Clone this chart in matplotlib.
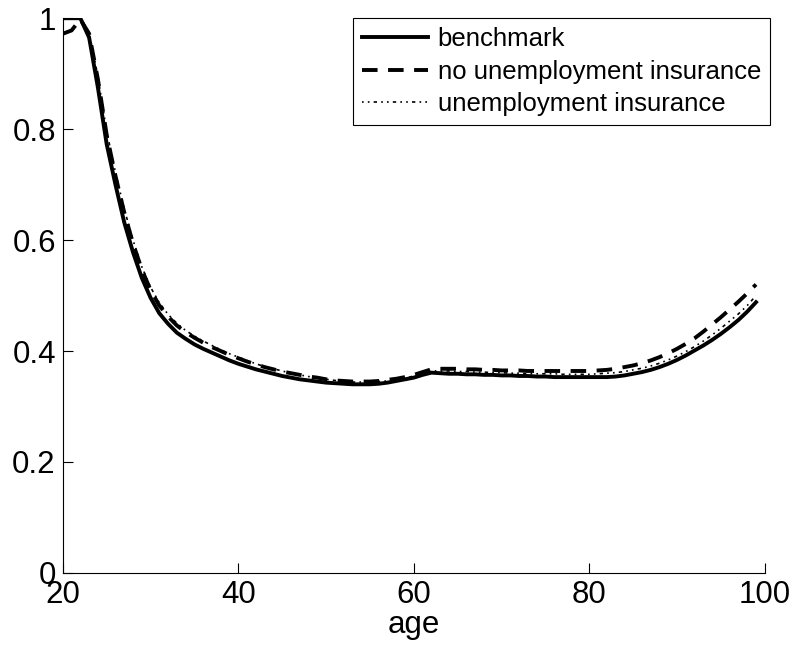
import numpy as np
import matplotlib.pyplot as plt

plt.rcParams['font.family'] = ['Liberation Sans', 'DejaVu Sans']

age = np.arange(20, 100)

benchmark = [
    1.000, 1.000, 1.000, 0.965, 0.875, 0.773, 0.700, 0.632, 0.578, 0.532,
    0.496, 0.468, 0.449, 0.433, 0.422, 0.412, 0.404, 0.397, 0.390, 0.383,
    0.377, 0.372, 0.367, 0.363, 0.359, 0.355, 0.352, 0.349, 0.347, 0.345,
    0.343, 0.342, 0.341, 0.340, 0.340, 0.340, 0.341, 0.343, 0.346, 0.349,
    0.352, 0.357, 0.361, 0.360, 0.359, 0.359, 0.358, 0.358, 0.357, 0.357,
    0.356, 0.356, 0.355, 0.355, 0.354, 0.354, 0.353, 0.353, 0.353, 0.353,
    0.353, 0.353, 0.353, 0.354, 0.356, 0.359, 0.362, 0.366, 0.371, 0.377,
    0.384, 0.392, 0.401, 0.410, 0.420, 0.431, 0.443, 0.456, 0.471, 0.488,
]

no_ui = [
    0.972, 0.978, 0.998, 0.972, 0.890, 0.790, 0.716, 0.650, 0.594, 0.547,
    0.510, 0.482, 0.462, 0.446, 0.434, 0.424, 0.415, 0.407, 0.400, 0.393,
    0.387, 0.381, 0.376, 0.371, 0.367, 0.363, 0.360, 0.357, 0.354, 0.352,
    0.349, 0.347, 0.346, 0.345, 0.345, 0.345, 0.346, 0.348, 0.350, 0.353,
    0.357, 0.362, 0.367, 0.368, 0.368, 0.368, 0.367, 0.367, 0.366, 0.366,
    0.365, 0.365, 0.365, 0.364, 0.364, 0.364, 0.364, 0.364, 0.364, 0.364,
    0.364, 0.365, 0.366, 0.368, 0.371, 0.374, 0.378, 0.383, 0.389, 0.396,
    0.404, 0.413, 0.423, 0.435, 0.448, 0.461, 0.475, 0.489, 0.504, 0.520,
]

ui = [
    1.000, 1.000, 1.000, 0.975, 0.895, 0.796, 0.722, 0.656, 0.600, 0.552,
    0.515, 0.487, 0.466, 0.450, 0.437, 0.427, 0.418, 0.410, 0.402, 0.395,
    0.389, 0.383, 0.377, 0.372, 0.368, 0.364, 0.360, 0.357, 0.354, 0.352,
    0.349, 0.347, 0.345, 0.344, 0.344, 0.344, 0.345, 0.346, 0.348, 0.351,
    0.355, 0.359, 0.364, 0.364, 0.364, 0.363, 0.363, 0.362, 0.362, 0.361,
    0.361, 0.360, 0.360, 0.359, 0.359, 0.359, 0.359, 0.358, 0.358, 0.358,
    0.358, 0.359, 0.360, 0.361, 0.363, 0.366, 0.369, 0.373, 0.378, 0.384,
    0.391, 0.399, 0.408, 0.418, 0.429, 0.441, 0.454, 0.467, 0.482, 0.500,
]

fig = plt.figure(figsize=(7.95, 6.51), dpi=100)
ax = fig.add_axes([0.079, 0.12, 0.883, 0.852])

ax.plot(age, benchmark, color='black', lw=2.8, label='benchmark')
ax.plot(age, no_ui, color='black', lw=2.8, dashes=(4, 2.7),
        label='no unemployment insurance')
ax.plot(age, ui, color='black', lw=1.2, dashes=(1, 2.5, 1, 2.5, 2, 2.5),
        label='unemployment insurance')

ax.set_xlim(20, 100)
ax.set_ylim(0, 1)
ax.set_xticks([20, 40, 60, 80, 100])
ax.set_yticks([0, 0.2, 0.4, 0.6, 0.8, 1])
ax.set_yticklabels(['0', '0.2', '0.4', '0.6', '0.8', '1'])
ax.tick_params(direction='in', length=7, width=0.8, labelsize=22.5, pad=5)
ax.set_xlabel('age', fontsize=22.5, labelpad=0)

for side in ['top', 'right']:
    ax.spines[side].set_visible(False)
for side in ['left', 'bottom']:
    ax.spines[side].set_linewidth(0.8)

leg = ax.legend(loc='upper right', bbox_to_anchor=(1.008, 1.0), fontsize=18.5,
                handlelength=2.55, handletextpad=0.4, labelspacing=0.32,
                borderaxespad=0, borderpad=0.36, fancybox=False,
                framealpha=1, edgecolor='black')
leg.get_frame().set_linewidth(0.8)

fig.savefig('out.png', dpi=100)
